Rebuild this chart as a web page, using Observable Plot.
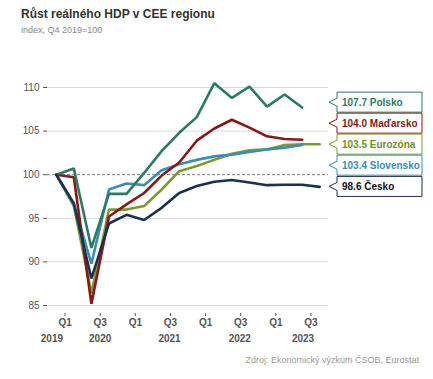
<!DOCTYPE html>
<html>
<head>
<meta charset="utf-8">
<script src="https://cdn.jsdelivr.net/npm/d3@7"></script>
<script src="https://cdn.jsdelivr.net/npm/@observablehq/plot@0.6"></script>
<style>
  html, body { margin: 0; padding: 0; background: #fff; }
  body { width: 433px; height: 379px; position: relative; overflow: hidden; font-family: "Liberation Sans", Arial, sans-serif; }
  #title { position: absolute; left: 21px; top: 8px; font-size: 12px; line-height: 12px; font-weight: bold; color: #333; white-space: nowrap; }
  #subtitle { position: absolute; left: 21px; top: 25.5px; font-size: 9px; line-height: 9px; color: #888; white-space: nowrap; }
  #chart { position: absolute; left: 0; top: 40px; }
  #caption { position: absolute; right: 14px; top: 356px; font-size: 9px; line-height: 9px; color: #999; white-space: nowrap; }
</style>
</head>
<body>
<div id="title">Růst reálného HDP v CEE regionu</div>
<div id="subtitle">index, Q4 2019=100</div>
<div id="chart"></div>
<div id="caption">Zdroj: Ekonomický výzkum ČSOB, Eurostat</div>
<script>
// quarters Q4 2019 .. Q3 2023
const quarters = ["Q4 2019","Q1 2020","Q2 2020","Q3 2020","Q4 2020","Q1 2021","Q2 2021","Q3 2021","Q4 2021","Q1 2022","Q2 2022","Q3 2022","Q4 2022","Q1 2023","Q2 2023","Q3 2023"];

const polsko    = [100, 100.7, 91.6, 97.8, 97.8, 100.2, 102.7, 104.8, 106.6, 110.5, 108.8, 110.1, 107.8, 109.2, 107.7];
const madarsko  = [100, 99.7, 85.2, 95.2, 96.6, 97.9, 99.9, 101.4, 103.9, 105.3, 106.3, 105.4, 104.4, 104.1, 104.0];
const eurozona  = [100, 96.4, 86.4, 96.0, 96.0, 96.4, 98.3, 100.4, 101.0, 101.7, 102.4, 102.8, 102.9, 103.4, 103.5, 103.5];
const slovensko = [100, 96.6, 89.8, 98.3, 99.0, 98.8, 100.5, 101.2, 101.7, 102.1, 102.3, 102.6, 102.9, 103.1, 103.4];
const cesko     = [100, 96.7, 88.1, 94.4, 95.4, 94.8, 96.2, 97.9, 98.7, 99.2, 99.4, 99.1, 98.8, 98.85, 98.85, 98.6];

const seriesNames = ["Polsko", "Maďarsko", "Eurozóna", "Slovensko", "Česko"];
const seriesColors = ["#2b7a63", "#8a1616", "#7b9b30", "#3b8db4", "#1b3151"];
const labelTextColors = ["#2b7a63", "#8a1616", "#6f8f2a", "#3b8db4", "#111111"];

const yTicks = [85, 90, 95, 100, 105, 110];
const xTickLabels = ["Q1", "Q3", "Q1", "Q3", "Q1", "Q3", "Q1", "Q3"];
const yearLabels = ["2019", "2020", "2021", "2022", "2023"];
const yearLabelPos = [-0.25, 2.5, 6.45, 10.45, 14.05];

const seriesData = [polsko, madarsko, eurozona, slovensko, cesko];
const series = seriesNames.map((name, k) => ({
  name, color: seriesColors[k], textColor: labelTextColors[k],
  rows: seriesData[k].map((v, i) => ({q: i, quarter: quarters[i], v})),
  last: seriesData[k][seriesData[k].length - 1]
}));

const xTickPos = d3.range(0.5, quarters.length - 1, 2);

function dodge(ys, gap) {
  const items = ys.map((y, i) => ({i, y})).sort((a, b) => a.y - b.y);
  let groups = items.map(d => ({members: [d], mean: d.y}));
  let changed = true;
  while (changed) {
    changed = false;
    for (let k = 0; k < groups.length - 1; k++) {
      const a = groups[k], b = groups[k + 1];
      const aBottom = a.mean + (a.members.length - 1) * gap / 2;
      const bTop = b.mean - (b.members.length - 1) * gap / 2;
      if (bTop - aBottom < gap) {
        const members = a.members.concat(b.members);
        groups.splice(k, 2, {members, mean: d3.mean(members, d => d.y)});
        changed = true;
        break;
      }
    }
  }
  const out = [];
  for (const g of groups) g.members.forEach((d, j) => { out[d.i] = g.mean + (j - (g.members.length - 1) / 2) * gap; });
  return out;
}

function labelBoxes(index, scales, values, dimensions) {
  const g = d3.create("svg:g");
  const right = dimensions.width - dimensions.marginRight;
  const ys = dodge(series.map(s => scales.y(s.last)), 21);
  const x0 = right + 9, w = 85, h = 20, tip = right + 1;
  series.forEach((s, k) => {
    const y = ys[k];
    g.append("path")
      .attr("d", `M${tip},${y} L${x0},${y - 4} L${x0},${y - h / 2} L${x0 + w},${y - h / 2} L${x0 + w},${y + h / 2} L${x0},${y + h / 2} L${x0},${y + 4} Z`)
      .attr("fill", "#fff")
      .attr("stroke", s.color)
      .attr("stroke-width", 1);
    g.append("text")
      .attr("x", x0 + 5)
      .attr("y", y)
      .attr("dy", "0.35em")
      .attr("text-anchor", "start")
      .attr("fill", s.textColor)
      .attr("font-weight", "bold")
      .attr("font-size", "10px")
      .text(`${d3.format(".1f")(s.last)} ${s.name}`);
  });
  return g.node();
}

const lineOrder = [2, 3, 1, 0, 4];

const plot = Plot.plot({
  width: 433,
  height: 300,
  marginLeft: 47,
  marginRight: 105,
  marginTop: 47,
  marginBottom: 35,
  x: {domain: [-0.5, quarters.length - 0.5], axis: null},
  y: {domain: [85, 110], axis: null},
  style: {fontFamily: "Liberation Sans, Arial, sans-serif", fontSize: "10px", background: "#fff", overflow: "visible"},
  marks: [
    Plot.ruleY(yTicks.filter(v => v !== 100), {stroke: "#d9d9d9", strokeWidth: 1}),
    Plot.ruleY([100], {stroke: "#7a7a7a", strokeWidth: 1, strokeDasharray: "3,2"}),
    Plot.axisY({ticks: yTicks, tickSize: 4, tickPadding: 4, color: "#555", label: null}),
    Plot.axisX({ticks: xTickPos, tickFormat: d => xTickLabels[xTickPos.indexOf(d)], tickSize: 3, tickPadding: 2, dy: 8, color: "#555", fontWeight: "bold", label: null}),
    Plot.axisX({ticks: yearLabelPos, tickFormat: d => yearLabels[yearLabelPos.indexOf(d)], tickSize: 0, tickPadding: 29, color: "#555", fontWeight: "bold", label: null}),
    ...lineOrder.map(k => Plot.line(series[k].rows, {x: "q", y: "v", stroke: series[k].color, strokeWidth: 2.6, strokeLinejoin: "miter"})),
    labelBoxes
  ]
});
document.getElementById("chart").appendChild(plot);
</script>
</body>
</html>
